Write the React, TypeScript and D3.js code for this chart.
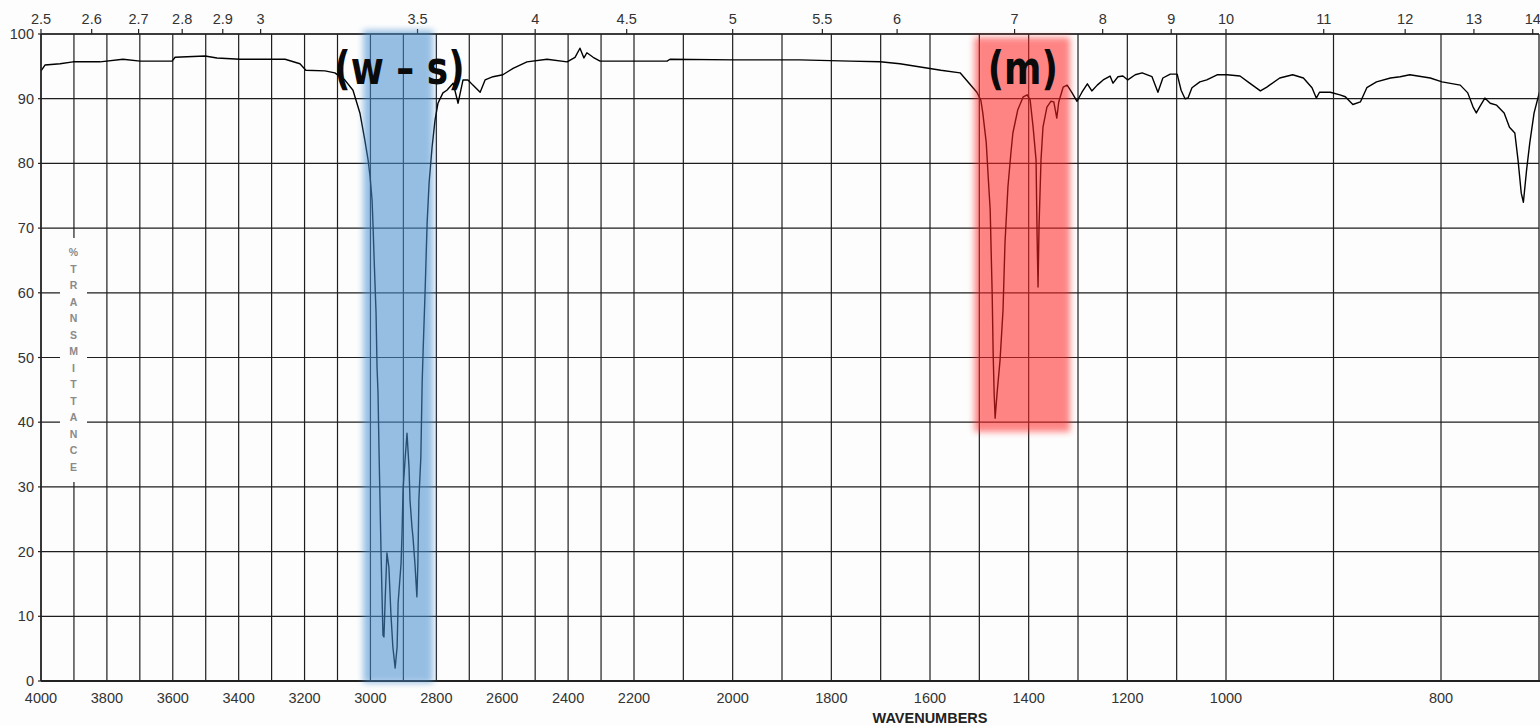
import React, { useEffect, useRef } from 'react'
import * as d3 from 'd3'

// spectrum: wavenumber (cm-1) and % transmittance
const wavenumbers = [
  4000, 3988, 3942, 3903, 3821, 3751, 3699, 3602, 3593, 3502, 3466, 3396, 3259, 3214, 3196, 3138,
  3108, 3078, 3053, 3032, 3017, 3007, 3001, 2995, 2992, 2989, 2983, 2980, 2977, 2974, 2971, 2968,
  2965, 2962, 2959, 2955, 2950, 2944, 2938, 2932, 2925, 2919, 2916, 2907, 2904, 2901, 2895, 2889,
  2883, 2880, 2874, 2871, 2865, 2859, 2856, 2853, 2847, 2843, 2840, 2834, 2828, 2822, 2813, 2804,
  2795, 2780, 2768, 2749, 2734, 2719, 2704, 2689, 2667, 2652, 2628, 2598, 2567, 2525, 2464, 2403,
  2379, 2364, 2352, 2343, 2324, 2303, 2200, 2133, 2127, 1997, 1864, 1762, 1701, 1661, 1578, 1539,
  1505, 1497, 1493, 1486, 1482, 1478, 1476, 1474, 1472, 1470, 1468, 1464, 1458, 1452, 1448, 1442,
  1436, 1432, 1422, 1411, 1403, 1397, 1391, 1385, 1383, 1381, 1379, 1375, 1371, 1363, 1355, 1349,
  1343, 1339, 1330, 1322, 1312, 1302, 1292, 1281, 1272, 1261, 1249, 1235, 1229, 1219, 1209, 1199,
  1184, 1170, 1150, 1138, 1128, 1113, 1099, 1091, 1083, 1077, 1069, 1053, 1039, 1018, 999, 987,
  978, 968, 962, 950, 938, 928, 920, 916, 913, 903, 894, 889, 882, 875, 869, 860,
  847, 838, 829, 810, 799, 782, 775, 770, 767, 764, 759, 754, 748, 741, 736, 731,
  728, 725, 723, 720, 717, 713, 708
]
const transmittance = [
  94.3, 95.2, 95.4, 95.7, 95.7, 96.1, 95.8, 95.8, 96.4, 96.6, 96.3, 96.1, 96.1, 95.4, 94.4, 94.3,
  94.0, 92.9, 91.3, 87.8, 83.6, 80.5, 77.9, 74.3, 70.2, 65.5, 56.9, 48.5, 44.5, 35.7, 28.0, 20.2,
  13.6, 7.1, 6.8, 13.0, 19.8, 17.6, 10.5, 5.3, 2.0, 5.3, 12.1, 18.2, 23.0, 29.5, 34.2, 38.3,
  33.1, 28.0, 23.8, 22.3, 18.2, 13.0, 18.2, 28.0, 34.6, 46.1, 51.2, 60.4, 70.8, 77.0, 82.5, 86.7,
  89.3, 90.9, 91.3, 92.4, 89.3, 92.9, 92.9, 92.1, 91.0, 92.9, 93.4, 93.7, 94.7, 95.7, 96.1, 95.7,
  96.4, 97.8, 96.3, 97.1, 96.4, 95.8, 95.8, 95.8, 96.1, 96.0, 96.0, 95.8, 95.7, 95.4, 94.4, 94.0,
  91.0, 89.8, 87.8, 83.2, 77.9, 72.8, 66.3, 60.0, 50.7, 44.5, 40.6, 44.5, 49.6, 57.3, 67.7, 76.4,
  81.6, 84.7, 88.3, 90.3, 90.6, 89.8, 85.6, 80.5, 69.2, 60.9, 70.2, 80.5, 85.6, 88.7, 89.6, 89.5,
  87.0, 89.5, 91.8, 92.1, 90.9, 89.6, 91.0, 92.3, 91.2, 92.1, 92.9, 93.5, 92.4, 93.4, 93.5, 92.9,
  93.7, 94.0, 93.4, 91.0, 93.2, 93.8, 93.8, 91.3, 90.0, 90.1, 91.7, 92.6, 92.9, 93.7, 93.7, 93.5,
  92.4, 91.2, 91.8, 93.2, 93.7, 93.2, 91.7, 90.1, 91.0, 91.0, 90.6, 90.3, 89.1, 89.5, 91.7, 92.6,
  93.2, 93.4, 93.7, 93.2, 92.6, 92.1, 90.9, 88.7, 87.8, 88.7, 90.1, 89.3, 89.0, 87.8, 85.6, 84.7,
  80.5, 75.4, 74.0, 79.0, 83.2, 87.8, 91.0
]

const wavenumberLabels = [4000, 3800, 3600, 3400, 3200, 3000, 2800, 2600, 2400, 2200, 2000, 1800, 1600, 1400, 1200, 1000, 800]
const gridWavenumbers = [
  4000, 3900, 3800, 3700, 3600, 3500, 3400, 3300, 3200, 3100, 3000, 2900, 2800, 2700, 2600, 2500,
  2400, 2300, 2200, 2100, 2000, 1900, 1800, 1700, 1600, 1500, 1400, 1300, 1200, 1100, 1000, 900, 800
]
const micronLabels = [2.5, 2.6, 2.7, 2.8, 2.9, 3, 3.5, 4, 4.5, 5, 5.5, 6, 7, 8, 9, 10, 11, 12, 13, 14]
const percentLabels = [0, 10, 20, 30, 40, 50, 60, 70, 80, 90, 100]
const yTitle = ['%', 'T', 'R', 'A', 'N', 'S', 'M', 'I', 'T', 'T', 'A', 'N', 'C', 'E']

// highlighted bands: [from, to] wavenumber, [low, high] %T
const bands = [
  { label: '(w \u2013 s)', from: 3022, to: 2810, low: -0.3, high: 100.6, color: 'rgb(70,142,208)', opacity: 0.56 },
  { label: '(m)', from: 1510, to: 1316, low: 38.5, high: 99.5, color: 'rgb(255,35,35)', opacity: 0.55 }
]
const labelWavenumbers = [2912, 1412]

const W = 1540
const H = 726

export default function App() {
  const ref = useRef<SVGSVGElement>(null)

  useEffect(() => {
    const svg = d3.select(ref.current)
    svg.selectAll('*').remove()

    const x = d3.scaleLinear()
      .domain([4000, 2200, 1000, 800, 700])
      .range([41, 634, 1226, 1441, 1548])
    const y = d3.scaleLinear().domain([0, 100]).range([681, 34])

    const font = '"Liberation Sans", Arial, sans-serif'
    const right = W - 1

    svg.append('rect').attr('width', W).attr('height', H).attr('fill', '#fdfdfd')

    const defs = svg.append('defs')
    defs.append('filter')
      .attr('id', 'soft')
      .attr('x', '-30%').attr('y', '-5%')
      .attr('width', '160%').attr('height', '110%')
      .append('feGaussianBlur').attr('stdDeviation', 3.2)
    defs.append('clipPath').attr('id', 'plot')
      .append('rect').attr('x', 41).attr('y', 0).attr('width', right - 41).attr('height', H)

    // grid
    const grid = svg.append('g').attr('stroke', '#1e1e1e').attr('stroke-width', 1.2)
    grid.selectAll('line.v')
      .data(gridWavenumbers)
      .enter().append('line')
        .attr('x1', d => x(d)).attr('x2', d => x(d))
        .attr('y1', y(100)).attr('y2', y(0))
    grid.selectAll('line.h')
      .data(percentLabels)
      .enter().append('line')
        .attr('x1', x(4000)).attr('x2', right)
        .attr('y1', d => y(d)).attr('y2', d => y(d))

    // vertical axis title
    svg.append('rect')
      .attr('x', 60).attr('y', 238).attr('width', 27).attr('height', 244)
      .attr('fill', '#fdfdfd')
    svg.append('g')
      .selectAll('text')
      .data(yTitle)
      .enter().append('text')
        .attr('x', 73.5)
        .attr('y', (d, i) => 256 + i * 16.5)
        .attr('text-anchor', 'middle')
        .attr('font-family', font)
        .attr('font-weight', 'bold')
        .attr('font-size', 10.5)
        .attr('fill', '#8a8a8a')
        .text(d => d)

    // spectrum
    const points = wavenumbers.map((w, i) => [w, transmittance[i]] as [number, number])
    svg.append('path')
      .datum(points)
      .attr('clip-path', 'url(#plot)')
      .attr('fill', 'none')
      .attr('stroke', '#000')
      .attr('stroke-width', 1.4)
      .attr('stroke-linejoin', 'round')
      .attr('d', d3.line<[number, number]>().x(d => x(d[0])).y(d => y(d[1])))

    // frame
    const frame = svg.append('g').attr('stroke', '#222')
    frame.append('line').attr('x1', x(4000)).attr('x2', right).attr('y1', y(100)).attr('y2', y(100)).attr('stroke-width', 1.3)
    frame.append('line').attr('x1', x(4000)).attr('x2', x(4000)).attr('y1', y(100)).attr('y2', y(0)).attr('stroke-width', 1.5)
    frame.append('line').attr('x1', right).attr('x2', right).attr('y1', y(100)).attr('y2', y(0)).attr('stroke-width', 1.3)
    frame.append('line').attr('x1', x(4000)).attr('x2', W).attr('y1', y(0)).attr('y2', y(0)).attr('stroke-width', 2)

    // micron ticks on top
    frame.selectAll('line.m')
      .data(micronLabels)
      .enter().append('line')
        .attr('x1', d => x(10000 / d)).attr('x2', d => x(10000 / d))
        .attr('y1', y(100) - 5).attr('y2', y(100))
        .attr('stroke-width', 1.2)
    frame.selectAll('line.p')
      .data(percentLabels)
      .enter().append('line')
        .attr('x1', x(4000) - 3).attr('x2', x(4000))
        .attr('y1', d => y(d)).attr('y2', d => y(d))
        .attr('stroke-width', 1.2)

    // highlighted bands
    svg.append('g')
      .selectAll('rect')
      .data(bands)
      .enter().append('rect')
        .attr('x', d => x(d.from))
        .attr('width', d => x(d.to) - x(d.from))
        .attr('y', d => y(d.high))
        .attr('height', d => y(d.low) - y(d.high))
        .attr('fill', d => d.color)
        .attr('opacity', d => d.opacity)
        .attr('filter', 'url(#soft)')

    // labels
    const labels = svg.append('g').attr('font-family', font).attr('font-size', 14.5).attr('fill', '#333')
    labels.selectAll('text.mu')
      .data(micronLabels)
      .enter().append('text')
        .attr('x', d => x(10000 / d))
        .attr('y', 24)
        .attr('text-anchor', 'middle')
        .text(d => String(d))
    labels.selectAll('text.wn')
      .data(wavenumberLabels)
      .enter().append('text')
        .attr('x', d => x(d))
        .attr('y', 703)
        .attr('text-anchor', 'middle')
        .text(d => String(d))
    labels.selectAll('text.pc')
      .data(percentLabels)
      .enter().append('text')
        .attr('x', 34)
        .attr('y', d => y(d) + 5)
        .attr('text-anchor', 'end')
        .text(d => String(d))
    labels.append('text')
      .attr('x', 930)
      .attr('y', 723)
      .attr('text-anchor', 'middle')
      .attr('font-weight', 'bold')
      .attr('font-size', 14.5)
      .attr('fill', '#222')
      .text('WAVENUMBERS')

    // band annotations
    svg.append('g')
      .selectAll('text')
      .data(bands)
      .enter().append('text')
        .attr('transform', (d, i) => `translate(${x(labelWavenumbers[i])},84) scale(0.78,1)`)
        .attr('text-anchor', 'middle')
        .attr('font-family', '"DejaVu Sans", Verdana, sans-serif')
        .attr('font-weight', 'bold')
        .attr('font-size', 46)
        .attr('fill', '#0a0a0a')
        .text(d => d.label)
  }, [])

  return (
    <svg
      ref={ref}
      width={W}
      height={H}
      style={{ position: 'absolute', left: 0, top: 0, display: 'block' }}
    />
  )
}
